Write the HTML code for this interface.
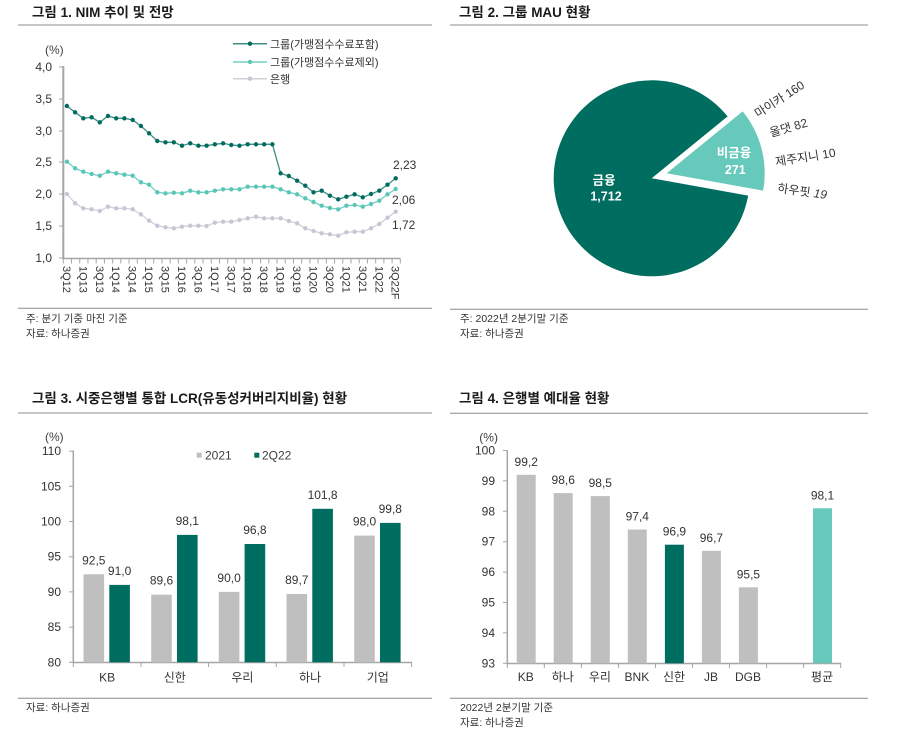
<!DOCTYPE html>
<html><head><meta charset="utf-8">
<style>
html,body{margin:0;padding:0;background:#fff;}
svg{display:block;}
text{font-family:"Liberation Sans","Noto Sans CJK KR",sans-serif;fill:#333;}
.t{font-size:13.5px;font-weight:bold;fill:#1a1a1a;}
.ax{font-size:12px;fill:#404040;}
.fn{font-size:10.5px;fill:#333;}
.lg{font-size:11px;fill:#333;}
</style></head>
<body>
<svg width="898" height="741" viewBox="0 0 898 741" xmlns="http://www.w3.org/2000/svg">
<defs>
<marker id="mD" markerUnits="userSpaceOnUse" markerWidth="6" markerHeight="6" refX="3" refY="3"><circle cx="3" cy="3" r="2.2" fill="#006b5f"/></marker>
<marker id="mL" markerUnits="userSpaceOnUse" markerWidth="6" markerHeight="6" refX="3" refY="3"><circle cx="3" cy="3" r="2.2" fill="#5cc6b6"/></marker>
<marker id="mG" markerUnits="userSpaceOnUse" markerWidth="6" markerHeight="6" refX="3" refY="3"><circle cx="3" cy="3" r="2.2" fill="#cbc4d4"/></marker>
</defs>

<!-- ============ Chart 1 ============ -->
<text class="t" x="32" y="17">그림 1. NIM 추이 및 전망</text>
<line x1="18" y1="25" x2="432" y2="25" stroke="#8c8c8c" stroke-width="1"/>
<text class="ax" x="45" y="54">(%)</text>
<g class="ax" text-anchor="end">
<text x="52" y="71">4,0</text>
<text x="52" y="103">3,5</text>
<text x="52" y="135">3,0</text>
<text x="52" y="166">2,5</text>
<text x="52" y="198">2,0</text>
<text x="52" y="230">1,5</text>
<text x="52" y="262">1,0</text>
</g>
<path d="M59 67H63M59 99H63M59 131H63M59 162H63M59 194H63M59 226H63M59 258H63" stroke="#a6a6a6" stroke-width="1"/>
<line x1="63.3" y1="66" x2="63.3" y2="259" stroke="#a6a6a6" stroke-width="2"/>
<line x1="62.3" y1="258.5" x2="400.5" y2="258.5" stroke="#a6a6a6" stroke-width="1.5"/>
<line x1="62.8" y1="261" x2="401" y2="261" stroke="#a6a6a6" stroke-width="5" stroke-dasharray="1 7.22"/>

<!-- legend -->
<line x1="233" y1="43.7" x2="267" y2="43.7" stroke="#3d8f82" stroke-width="1.5"/><circle cx="250" cy="43.7" r="2.2" fill="#006b5f"/>
<line x1="233" y1="62" x2="267" y2="62" stroke="#6fd0c2" stroke-width="1.5"/><circle cx="250" cy="62" r="2.2" fill="#5cc6b6"/>
<line x1="233" y1="78.7" x2="267" y2="78.7" stroke="#d3cfd9" stroke-width="1.5"/><circle cx="250" cy="78.7" r="2.2" fill="#cbc4d4"/>
<text class="lg" x="270" y="48">그룹(가맹점수수료포함)</text>
<text class="lg" x="270" y="66">그룹(가맹점수수료제외)</text>
<text class="lg" x="270" y="83">은행</text>

<!-- series -->
<polyline fill="none" stroke="#d3cfd9" stroke-width="1.3" marker-start="url(#mG)" marker-mid="url(#mG)" marker-end="url(#mG)" points="66.9,194 75.1,203.3 83.3,208.3 91.6,209.3 99.8,211 108,206.7 116.2,208.3 124.4,208.3 132.7,209.3 140.9,214.3 149.1,220.7 157.3,225.7 165.5,227.3 173.8,228.3 182,226.7 190.2,225.7 198.4,225.7 206.6,226 214.9,222.7 223.1,221.7 231.3,221.7 239.5,220 247.7,218.3 256,216.7 264.2,218.3 272.4,218.3 280.6,218.3 288.8,221 297.1,223.3 305.3,228.3 313.5,231 321.7,233.3 329.9,234.3 338.2,235.7 346.4,232.3 354.6,231.7 362.8,231.7 371,228.3 379.3,224 387.5,217.7 395.7,211.7"/>
<polyline fill="none" stroke="#6fd0c2" stroke-width="1.3" marker-start="url(#mL)" marker-mid="url(#mL)" marker-end="url(#mL)" points="66.9,161.7 75.1,168.3 83.3,171.7 91.6,174 99.8,175.7 108,171.7 116.2,173.3 124.4,174.7 132.7,175.7 140.9,182.3 149.1,184.7 157.3,192.3 165.5,193.3 173.8,192.7 182,193.3 190.2,190.7 198.4,192.3 206.6,192.3 214.9,190.7 223.1,189.3 231.3,189.3 239.5,189.3 247.7,186.7 256,186.7 264.2,186.7 272.4,186.7 280.6,189.3 288.8,192.3 297.1,194.3 305.3,198.3 313.5,202 321.7,205.7 329.9,208 338.2,209.3 346.4,205.7 354.6,205 362.8,206.7 371,204 379.3,200.7 387.5,194.3 395.7,189"/>
<polyline fill="none" stroke="#3d8f82" stroke-width="1.3" marker-start="url(#mD)" marker-mid="url(#mD)" marker-end="url(#mD)" points="66.9,106 75.1,112.3 83.3,118.3 91.6,117.3 99.8,122.3 108,116 116.2,118.3 124.4,118.3 132.7,120 140.9,126 149.1,133.3 157.3,141 165.5,142.3 173.8,142.3 182,145.7 190.2,143.3 198.4,145.7 206.6,145.7 214.9,144.3 223.1,143.3 231.3,145 239.5,145.7 247.7,144.3 256,144.3 264.2,144.3 272.4,144.3 280.6,173.3 288.8,176 297.1,180.7 305.3,185.7 313.5,192.3 321.7,190.7 329.9,195.7 338.2,199.3 346.4,196.7 354.6,194.3 362.8,197.3 371,194 379.3,190.7 387.5,184.7 395.7,178.3"/>
<g class="ax">
<text x="393" y="169">2,23</text>
<text x="392" y="204">2,06</text>
<text x="392" y="229">1,72</text>
</g>
<g font-size="11" fill="#404040">
<text transform="translate(62.9,266) rotate(90)">3Q12</text>
<text transform="translate(79.3,266) rotate(90)">1Q13</text>
<text transform="translate(95.8,266) rotate(90)">3Q13</text>
<text transform="translate(112.2,266) rotate(90)">1Q14</text>
<text transform="translate(128.7,266) rotate(90)">3Q14</text>
<text transform="translate(145.1,266) rotate(90)">1Q15</text>
<text transform="translate(161.5,266) rotate(90)">3Q15</text>
<text transform="translate(178,266) rotate(90)">1Q16</text>
<text transform="translate(194.4,266) rotate(90)">3Q16</text>
<text transform="translate(210.9,266) rotate(90)">1Q17</text>
<text transform="translate(227.3,266) rotate(90)">3Q17</text>
<text transform="translate(243.7,266) rotate(90)">1Q18</text>
<text transform="translate(260.2,266) rotate(90)">3Q18</text>
<text transform="translate(276.6,266) rotate(90)">1Q19</text>
<text transform="translate(293.1,266) rotate(90)">3Q19</text>
<text transform="translate(309.5,266) rotate(90)">1Q20</text>
<text transform="translate(325.9,266) rotate(90)">3Q20</text>
<text transform="translate(342.4,266) rotate(90)">1Q21</text>
<text transform="translate(358.8,266) rotate(90)">3Q21</text>
<text transform="translate(375.3,266) rotate(90)">1Q22</text>
<text transform="translate(391.7,266) rotate(90)">3Q22F</text>
</g>
<line x1="18" y1="308.3" x2="432" y2="308.3" stroke="#8c8c8c" stroke-width="1"/>
<text class="fn" x="26" y="322">주: 분기 기중 마진 기준</text>
<text class="fn" x="26" y="337">자료: 하나증권</text>

<!-- ============ Chart 2 ============ -->
<text class="t" x="459" y="17">그림 2. 그룹 MAU 현황</text>
<line x1="450" y1="25" x2="868" y2="25" stroke="#8c8c8c" stroke-width="1"/>
<path d="M651.7 178.3 L748.15 195.66 A98 98 0 1 1 727.64 116.36 Z" fill="#006d61"/>
<path d="M666.7 173.3 L742.64 111.36 A98 98 0 0 1 763.15 190.66 Z" fill="#67c9bb"/>
<g font-size="12.5" font-weight="bold" text-anchor="middle">
<text x="604" y="184.5" fill="#fff" style="fill:#fff">금융</text>
<text x="606" y="200.5" fill="#fff" style="fill:#fff">1,712</text>
<text x="734" y="157" fill="#fff" style="fill:#fff">비금융</text>
<text x="735.3" y="174" fill="#fff" style="fill:#fff">271</text>
</g>
<g font-size="12" fill="#222">
<text transform="translate(758,118) rotate(-33)">마이카 160</text>
<text transform="translate(771,137) rotate(-16)">올댓 82</text>
<text transform="translate(776,166) rotate(-9)">제주지니 10</text>
<text transform="translate(777,192) rotate(8)">하우핏 <tspan font-style="italic">19</tspan></text>
</g>
<line x1="450" y1="309.3" x2="868" y2="309.3" stroke="#8c8c8c" stroke-width="1"/>
<text class="fn" x="460" y="322">주: 2022년 2분기말 기준</text>
<text class="fn" x="460" y="337">자료: 하나증권</text>

<!-- ============ Chart 3 ============ -->
<text class="t" x="32" y="403">그림 3. 시중은행별 통합 LCR(유동성커버리지비율) 현황</text>
<line x1="18" y1="413" x2="432" y2="413" stroke="#8c8c8c" stroke-width="1"/>
<text class="ax" x="45" y="441">(%)</text>
<g class="ax" text-anchor="end">
<text x="61" y="455.1">110</text>
<text x="61" y="490.3">105</text>
<text x="61" y="525.5">100</text>
<text x="61" y="560.7">95</text>
<text x="61" y="595.9">90</text>
<text x="61" y="631.1">85</text>
<text x="61" y="666.3">80</text>
</g>
<path d="M69 451.1H73M69 486.3H73M69 521.5H73M69 556.7H73M69 591.9H73M69 627.1H73M69 662.3H73" stroke="#a6a6a6" stroke-width="1"/>
<line x1="73.3" y1="450.5" x2="73.3" y2="663" stroke="#a6a6a6" stroke-width="1.5"/>
<line x1="72.5" y1="662.5" x2="412" y2="662.5" stroke="#a6a6a6" stroke-width="1.5"/>
<path d="M73.3 662V667M141 662V667M208.6 662V667M276.3 662V667M344 662V667M411.6 662V667" stroke="#a6a6a6" stroke-width="1"/>
<rect x="196.7" y="452.7" width="5" height="5" fill="#bfbfbf"/>
<text class="ax" x="205" y="459.5">2021</text>
<rect x="254.3" y="452.7" width="5" height="5" fill="#006d61"/>
<text class="ax" x="262" y="459.5">2Q22</text>
<g fill="#bfbfbf">
<rect x="83.5" y="574.3" width="20.6" height="88"/>
<rect x="151.2" y="594.7" width="20.6" height="67.6"/>
<rect x="218.8" y="591.9" width="20.6" height="70.4"/>
<rect x="286.5" y="594" width="20.6" height="68.3"/>
<rect x="354.2" y="535.6" width="20.6" height="126.7"/>
</g>
<g fill="#006d61">
<rect x="109.3" y="584.9" width="20.6" height="77.4"/>
<rect x="177" y="534.9" width="20.6" height="127.4"/>
<rect x="244.6" y="544" width="20.6" height="118.3"/>
<rect x="312.3" y="508.8" width="20.6" height="153.5"/>
<rect x="380" y="522.9" width="20.6" height="139.4"/>
</g>
<g class="ax" text-anchor="middle">
<text x="93.8" y="564.3">92,5</text>
<text x="119.6" y="574.9">91,0</text>
<text x="161.5" y="584.7">89,6</text>
<text x="187.3" y="524.9">98,1</text>
<text x="229.1" y="581.9">90,0</text>
<text x="254.9" y="534">96,8</text>
<text x="296.8" y="584">89,7</text>
<text x="322.6" y="498.8">101,8</text>
<text x="364.5" y="525.6">98,0</text>
<text x="390.3" y="512.9">99,8</text>
<text x="107.1" y="681.5">KB</text>
<text x="174.8" y="681.5">신한</text>
<text x="242.4" y="681.5">우리</text>
<text x="310.1" y="681.5">하나</text>
<text x="377.8" y="681.5">기업</text>
</g>
<line x1="18" y1="698.3" x2="432" y2="698.3" stroke="#8c8c8c" stroke-width="1"/>
<text class="fn" x="26" y="711">자료: 하나증권</text>

<!-- ============ Chart 4 ============ -->
<text class="t" x="459" y="403">그림 4. 은행별 예대율 현황</text>
<line x1="450" y1="413.3" x2="868" y2="413.3" stroke="#8c8c8c" stroke-width="1"/>
<text class="ax" x="479.3" y="441.5">(%)</text>
<g class="ax" text-anchor="end">
<text x="495" y="454.5">100</text>
<text x="495" y="484.9">99</text>
<text x="495" y="515.3">98</text>
<text x="495" y="545.7">97</text>
<text x="495" y="576.1">96</text>
<text x="495" y="606.5">95</text>
<text x="495" y="636.9">94</text>
<text x="495" y="667.3">93</text>
</g>
<path d="M503 450.5H507M503 480.9H507M503 511.3H507M503 541.7H507M503 572.1H507M503 602.5H507M503 632.9H507M503 663.3H507" stroke="#a6a6a6" stroke-width="1"/>
<line x1="507.3" y1="450" x2="507.3" y2="664" stroke="#a6a6a6" stroke-width="1.5"/>
<line x1="506.5" y1="663.5" x2="841" y2="663.5" stroke="#a6a6a6" stroke-width="1.5"/>
<path d="M507.3 663V668M544.3 663V668M581.4 663V668M618.4 663V668M655.5 663V668M692.5 663V668M729.5 663V668M766.6 663V668M803.6 663V668M840.7 663V668" stroke="#a6a6a6" stroke-width="1"/>
<g fill="#bfbfbf">
<rect x="516.7" y="474.8" width="19" height="188.5"/>
<rect x="553.7" y="493.1" width="19" height="170.2"/>
<rect x="590.8" y="496.1" width="19" height="167.2"/>
<rect x="627.8" y="529.5" width="19" height="133.8"/>
<rect x="701.9" y="550.8" width="19" height="112.5"/>
<rect x="738.9" y="587.3" width="19" height="76"/>
</g>
<rect x="664.9" y="544.7" width="19" height="118.6" fill="#006d61"/>
<rect x="813" y="508.3" width="19" height="155" fill="#67c9bb"/>
<g class="ax" text-anchor="middle">
<text x="526.2" y="465.8">99,2</text>
<text x="563.2" y="484.1">98,6</text>
<text x="600.3" y="487.1">98,5</text>
<text x="637.3" y="520.5">97,4</text>
<text x="674.4" y="535.7">96,9</text>
<text x="711.4" y="541.8">96,7</text>
<text x="748.4" y="578.3">95,5</text>
<text x="822.5" y="499.3">98,1</text>
<text x="525.8" y="681">KB</text>
<text x="562.8" y="681">하나</text>
<text x="599.9" y="681">우리</text>
<text x="636.9" y="681">BNK</text>
<text x="674" y="681">신한</text>
<text x="711" y="681">JB</text>
<text x="748" y="681">DGB</text>
<text x="822.1" y="681">평균</text>
</g>
<line x1="450" y1="698.3" x2="868" y2="698.3" stroke="#8c8c8c" stroke-width="1"/>
<text class="fn" x="460" y="711">2022년 2분기말 기준</text>
<text class="fn" x="460" y="726">자료: 하나증권</text>
</svg>
</body></html>
